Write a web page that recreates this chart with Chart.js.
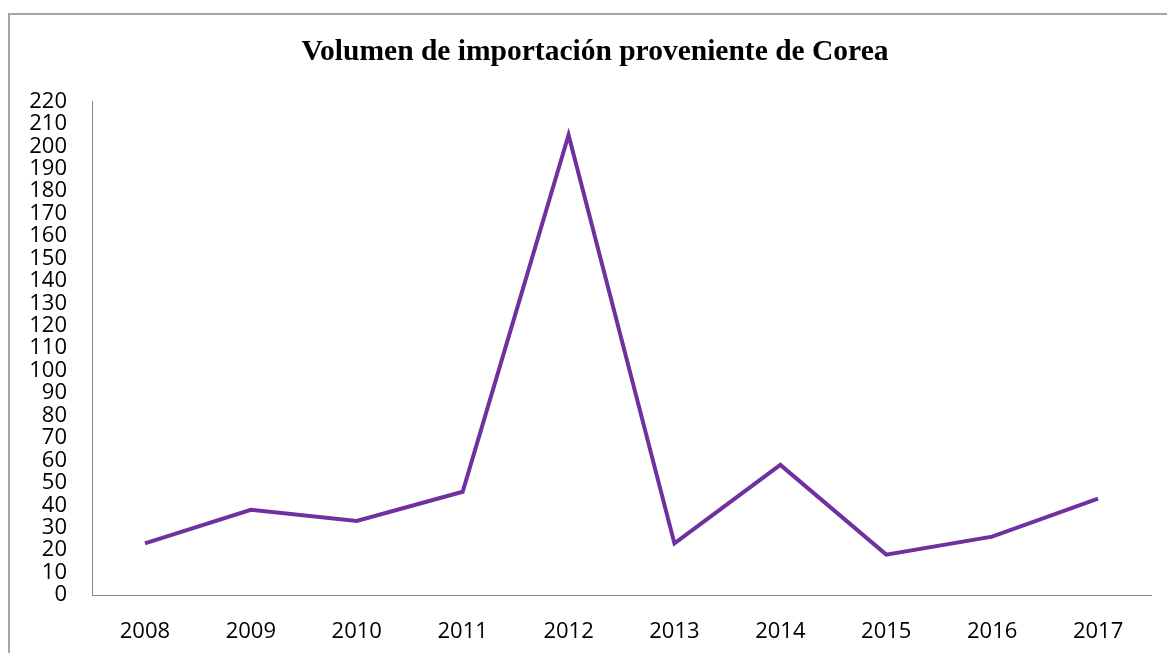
<!DOCTYPE html>
<html>
<head>
<meta charset="utf-8">
<script src="https://cdn.jsdelivr.net/npm/chart.js@4"></script>
<style>
  html, body { margin: 0; padding: 0; background: #fff; }
  #wrap { position: relative; width: 1167px; height: 653px; overflow: hidden; }
  #frame { position: absolute; left: 8px; top: 13px; width: 1200px; height: 700px;
           border-left: 2px solid #a6a6a6; border-top: 2px solid #a6a6a6; }
  #myChart { position: absolute; left: 0; top: 0; }
</style>
</head>
<body>
<div id="wrap">
  <div id="frame"></div>
  <canvas id="myChart" width="1167" height="653"></canvas>
</div>
<script>
// import volume from Korea, per year
const years = ['2008', '2009', '2010', '2011', '2012', '2013', '2014', '2015', '2016', '2017'];
const volumen = [23, 38, 33, 46, 205, 23, 58, 18, 26, 43];
const yMin = 0, yMax = 220, yStep = 10;

// the original title sits a little right of the canvas centre
const shiftTitle = {
    id: 'shiftTitle',
    afterLayout(chart) {
        if (chart.titleBlock) chart.titleBlock.right += 39;
    }
};

const ctx = document.getElementById("myChart").getContext("2d");
const myChart = new Chart(ctx, {
    type: "line",
    data: {
        labels: years,
        datasets: [
            {
                label: 'Volumen',
                data: volumen,
                borderColor: '#7030A0',
                backgroundColor: '#7030A0',
                borderWidth: 4,
                pointRadius: 0,
                tension: 0,
            },
        ],
    },
    plugins: [shiftTitle],
    options: {
        responsive: false,
        animation: false,
        layout: { padding: { left: 0, right: 16, top: 0, bottom: 0 } },
        plugins: {
            legend: { display: false },
            tooltip: { enabled: false },
            title: {
                display: true,
                text: 'Volumen de importación proveniente de Corea',
                color: '#000',
                font: { family: '"Liberation Serif", "Times New Roman", serif', size: 29.5, weight: 'bold' },
                padding: { top: 35, bottom: 31 },
            },
        },
        scales: {
            x: {
                offset: true,
                grid: { display: false, drawTicks: false },
                border: { display: true, color: '#868686', width: 1 },
                ticks: {
                    color: '#000',
                    padding: 24,
                    font: { family: '"Open Sans", sans-serif', size: 22 },
                    maxRotation: 0,
                },
                afterFit: (s) => { s.height = 58; },
            },
            y: {
                min: yMin,
                max: yMax,
                grid: { display: false, drawTicks: false },
                border: { display: true, color: '#868686', width: 1 },
                ticks: {
                    stepSize: yStep,
                    autoSkip: false,
                    color: '#000',
                    padding: 25,
                    font: { family: '"Open Sans", sans-serif', size: 22 },
                },
                afterFit: (s) => { s.width = 92; },
            },
        },
    }
});
</script>
</body>
</html>
